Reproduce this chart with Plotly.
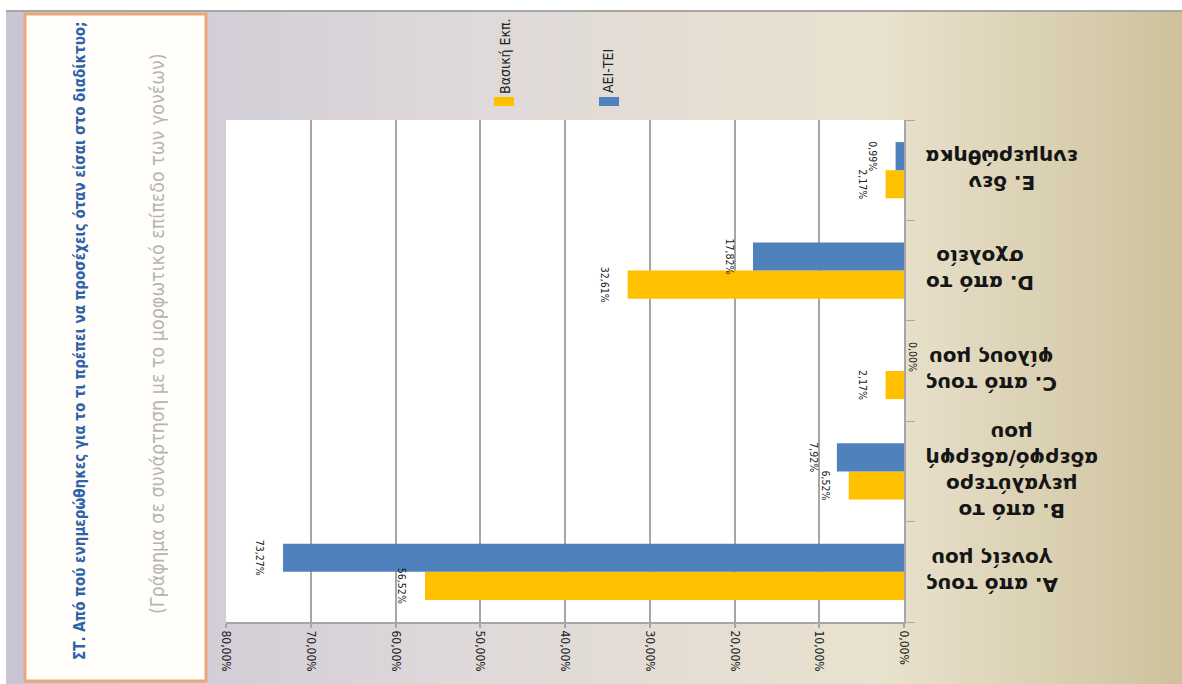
import plotly.graph_objects as go

# Survey categories and percentages by parents' education level
categories = [
    "Α. από τους<br>γονείς μου",
    "Β. από το<br>μεγαλύτερο<br>αδερφό/αδερφή<br>μου",
    "C. από τους<br>φίλους μου",
    "D. από το<br>σχολείο",
    "Ε. δεν<br>ενημερώθηκα",
]
basic_edu = [56.52, 6.52, 2.17, 32.61, 2.17]
higher_edu = [73.27, 7.92, 0.00, 17.82, 0.99]
series_names = ["Βασική Εκπ.", "ΑΕΙ-ΤΕΙ"]
x_ticks = [0, 10, 20, 30, 40, 50, 60, 70, 80]
x_tick_labels = ["0,00%", "10,00%", "20,00%", "30,00%", "40,00%",
                 "50,00%", "60,00%", "70,00%", "80,00%"]

title_text = "ΣΤ. Από πού ενημερώθηκες για το τι πρέπει να προσέχεις όταν είσαι στο διαδίκτυο;"
subtitle_text = "(Γράφημα σε συνάρτηση με το μορφωτικό επίπεδο των γονέων)"

YELLOW = "#FFC000"
BLUE = "#4F81BD"
NARROW = "Liberation Sans Narrow, DejaVu Sans Condensed, Liberation Sans, sans-serif"

W, H = 1182, 684
PL, PR, PT, PB = 226, 904, 120, 622   # plot area in pixels


def px_x(px):
    return (px - PL) / (PR - PL)


def px_y(py):
    return (PB - py) / (PB - PT)


series = [(series_names[0], basic_edu, YELLOW, "g1"),
          (series_names[1], higher_edu, BLUE, "g2")]

fig = go.Figure()
# the bars themselves
for name, vals, col, grp in series:
    fig.add_trace(go.Bar(
        y=categories, x=vals, name=name, orientation="h", offsetgroup=grp,
        marker=dict(color=col, line=dict(width=0)),
        showlegend=False, hoverinfo="skip",
    ))
# value labels, drawn on top of every bar
for name, vals, col, grp in series:
    fig.add_trace(go.Bar(
        y=categories, x=vals, name=name, orientation="h", offsetgroup=grp,
        marker=dict(color="rgba(0,0,0,0)", line=dict(width=0)),
        # leading blank line keeps the rotated value label clear of the bar end
        texttemplate=" <br>%{x:.2f}%", textposition="outside",
        textangle=90, cliponaxis=False,
        textfont=dict(family=NARROW, size=10.5, color="#222222"),
        showlegend=False,
    ))

shapes = []

# background gradient (lavender grey -> cream -> tan)
stops = [(0, (200, 196, 212)), (450, (222, 216, 218)), (880, (233, 226, 206)), (1182, (206, 194, 156))]


def grad(px):
    for (x0, c0), (x1, c1) in zip(stops[:-1], stops[1:]):
        if x0 <= px <= x1:
            t = (px - x0) / (x1 - x0)
            return tuple(round(a + (b - a) * t) for a, b in zip(c0, c1))
    return stops[-1][1]


step = 8
for x0 in range(6, W, step):
    c = grad(x0 + step / 2)
    shapes.append(dict(type="rect", xref="paper", yref="paper", layer="below",
                       x0=px_x(x0), x1=px_x(min(x0 + step + 1, W)),
                       y0=px_y(H), y1=px_y(11),
                       fillcolor="rgb(%d,%d,%d)" % c, line=dict(width=0)))
# top edge line
shapes.append(dict(type="line", xref="paper", yref="paper", layer="below",
                   x0=px_x(6), x1=px_x(W), y0=px_y(11), y1=px_y(11),
                   line=dict(color="#A9A6A6", width=2)))
# title box
shapes.append(dict(type="rect", xref="paper", yref="paper", layer="below",
                   x0=px_x(25), x1=px_x(206), y0=px_y(681), y1=px_y(14),
                   fillcolor="#FFFEFB", line=dict(color="#E9A77A", width=3)))
# plot area
shapes.append(dict(type="rect", xref="paper", yref="paper", layer="below",
                   x0=0, x1=1, y0=0, y1=1, fillcolor="white", line=dict(width=0)))
# legend swatches
for cx, col in [(504, YELLOW), (609, BLUE)]:
    shapes.append(dict(type="rect", xref="paper", yref="paper",
                       x0=px_x(cx - 10), x1=px_x(cx + 10), y0=px_y(106), y1=px_y(97),
                       fillcolor=col, line=dict(width=0)))

annotations = [
    dict(text=series_names[0], x=px_x(505), y=px_y(56), xref="paper", yref="paper",
         textangle=-90, showarrow=False, xanchor="center", yanchor="middle",
         font=dict(family=NARROW, size=14, color="#222222")),
    dict(text=series_names[1], x=px_x(608), y=px_y(71), xref="paper", yref="paper",
         textangle=-90, showarrow=False, xanchor="center", yanchor="middle",
         font=dict(family=NARROW, size=14, color="#222222")),
    dict(text="<b>" + title_text + "</b>", x=px_x(80), y=px_y(341), xref="paper", yref="paper",
         textangle=-90, showarrow=False, xanchor="center", yanchor="middle",
         font=dict(family=NARROW, size=15, color="#2F62A8")),
    dict(text=subtitle_text, x=px_x(157), y=px_y(334), xref="paper", yref="paper",
         textangle=-90, showarrow=False, xanchor="center", yanchor="middle",
         font=dict(family=NARROW, size=19.5, color="#B5B5B5")),
]

# category labels, turned upside down beside the right-hand axis
for cat in categories:
    annotations.append(dict(text="<b>" + cat + "</b>", x=px_x(924), y=cat,
                            xref="paper", yref="y",
                            textangle=180, showarrow=False, xanchor="left",
                            yanchor="middle", align="center",
                            font=dict(family="DejaVu Sans", size=20, color="#151515")))

fig.update_layout(
    width=W, height=H,
    margin=dict(l=PL, r=W - PR, t=PT, b=H - PB, pad=0),
    paper_bgcolor="white", plot_bgcolor="rgba(0,0,0,0)",
    separators=",.",
    barmode="group", bargap=0.44, bargroupgap=0,
    shapes=shapes, annotations=annotations,
    showlegend=False,
    xaxis=dict(range=[80, 0], tickvals=x_ticks, ticktext=x_tick_labels,
               tickangle=90, tickfont=dict(family=NARROW, size=12, color="#222222"),
               showgrid=True, gridcolor="#A6A6A6", gridwidth=2,
               showline=True, linecolor="#A6A6A6", linewidth=2,
               ticks="outside", ticklen=4, tickcolor="#A6A6A6", tickwidth=2,
               zeroline=False, fixedrange=True),
    yaxis=dict(side="right", tickson="boundaries", showticklabels=False,
               ticks="outside", ticklen=9, tickcolor="#A6A6A6", tickwidth=1,
               showline=True, linecolor="#A6A6A6", linewidth=2,
               showgrid=False, fixedrange=True),
)

fig.write_html("out.html")
